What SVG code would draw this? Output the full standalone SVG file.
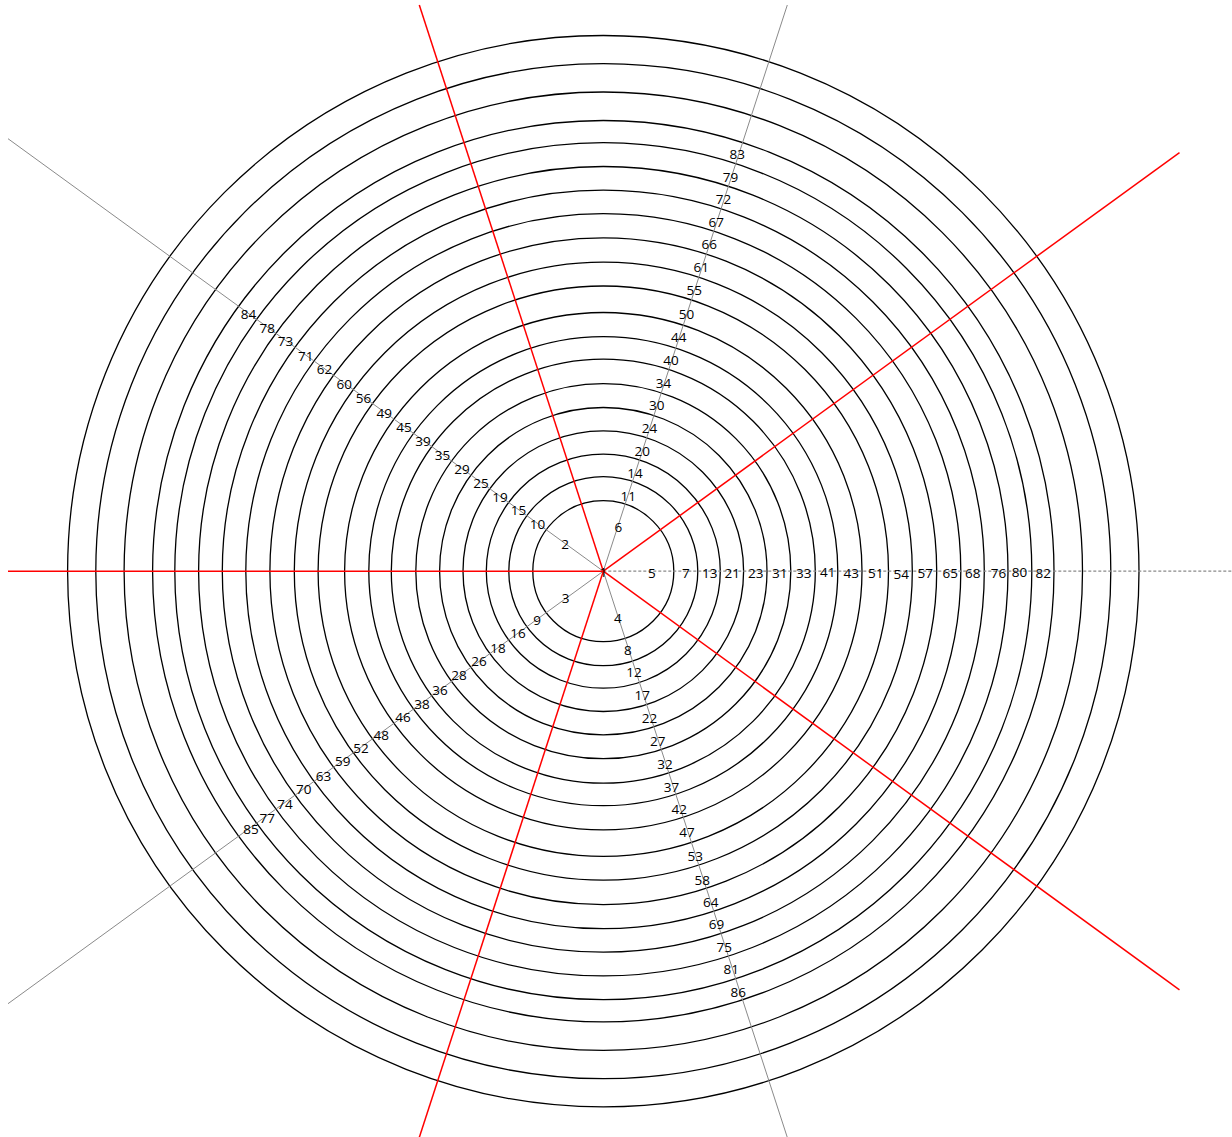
<svg xmlns="http://www.w3.org/2000/svg" width="1232" height="1137" viewBox="0 0 1232 1137">
<style>
.ring{fill:none;stroke:#000;stroke-width:1.3}
.red{stroke:#ff0000;stroke-width:1.5;fill:none}
.gray{stroke:#8a8a8a;stroke-width:1;fill:none}
.dash{stroke:#8a8a8a;stroke-width:1.2;stroke-dasharray:3 2;fill:none}
text{font-family:"Open Sans","Noto Sans","Liberation Sans",sans-serif;font-size:13.5px;fill:#000;text-anchor:middle;dominant-baseline:central}
</style>
<rect width="1232" height="1137" fill="#fff"/>
<g id="rings">
<circle class="ring" cx="603.3" cy="571.2" r="70.5"/>
<circle class="ring" cx="603.3" cy="571.2" r="94.5"/>
<circle class="ring" cx="603.3" cy="571.2" r="117"/>
<circle class="ring" cx="603.3" cy="571.2" r="140.3"/>
<circle class="ring" cx="603.3" cy="571.2" r="163.7"/>
<circle class="ring" cx="603.3" cy="571.2" r="187.5"/>
<circle class="ring" cx="603.3" cy="571.2" r="212"/>
<circle class="ring" cx="603.3" cy="571.2" r="234.5"/>
<circle class="ring" cx="603.3" cy="571.2" r="258.7"/>
<circle class="ring" cx="603.3" cy="571.2" r="285.2"/>
<circle class="ring" cx="603.3" cy="571.2" r="309"/>
<circle class="ring" cx="603.3" cy="571.2" r="333.4"/>
<circle class="ring" cx="603.3" cy="571.2" r="357.5"/>
<circle class="ring" cx="603.3" cy="571.2" r="381"/>
<circle class="ring" cx="603.3" cy="571.2" r="404.7"/>
<circle class="ring" cx="603.3" cy="571.2" r="428.5"/>
<circle class="ring" cx="603.3" cy="571.2" r="450.7"/>
<circle class="ring" cx="603.3" cy="571.2" r="479.2"/>
<circle class="ring" cx="603.3" cy="571.2" r="507.5"/>
<circle class="ring" cx="603.3" cy="571.2" r="535.7"/>
</g>
<g id="connectors">
<line class="dash" x1="603.3" y1="571.2" x2="1232" y2="571.2"/>
<line class="gray" x1="603.3" y1="571.2" x2="787.3" y2="5"/>
<line class="gray" x1="603.3" y1="571.2" x2="8" y2="138.7"/>
<line class="gray" x1="603.3" y1="571.2" x2="8" y2="1003.7"/>
<line class="gray" x1="603.3" y1="571.2" x2="787.3" y2="1137.4"/>
<line class="red" x1="603.3" y1="571.2" x2="8" y2="571.2"/>
<line class="red" x1="603.3" y1="571.2" x2="419.3" y2="5"/>
<line class="red" x1="603.3" y1="571.2" x2="1179.5" y2="152.6"/>
<line class="red" x1="603.3" y1="571.2" x2="1179.5" y2="989.8"/>
<line class="red" x1="603.3" y1="571.2" x2="419.3" y2="1137.4"/>
</g>
<g id="nodes">
<g id="n1"><text x="603.3" y="572.2">1</text></g>
<g id="n5"><text x="651.8" y="572.7">5</text></g>
<g id="n7"><text x="685.8" y="572.7">7</text></g>
<g id="n13"><text x="709.8" y="572.7">13</text></g>
<g id="n21"><text x="732.3" y="572.7">21</text></g>
<g id="n23"><text x="755.8" y="572.7">23</text></g>
<g id="n31"><text x="779.8" y="572.7">31</text></g>
<g id="n33"><text x="803.8" y="572.7">33</text></g>
<g id="n41"><text x="827.8" y="572.2">41</text></g>
<g id="n43"><text x="851.3" y="572.7">43</text></g>
<g id="n51"><text x="875.8" y="572.7">51</text></g>
<g id="n54"><text x="901.3" y="573.5">54</text></g>
<g id="n57"><text x="925.3" y="572.7">57</text></g>
<g id="n65"><text x="950.3" y="572.7">65</text></g>
<g id="n68"><text x="972.8" y="572.7">68</text></g>
<g id="n76"><text x="998.5" y="572.7">76</text></g>
<g id="n80"><text x="1019.5" y="572.2">80</text></g>
<g id="n82"><text x="1043.3" y="572.7">82</text></g>
<g id="n6"><text x="618.3" y="526.6">6</text></g>
<g id="n11"><text x="628.3" y="496">11</text></g>
<g id="n14"><text x="635.1" y="473.4">14</text></g>
<g id="n20"><text x="642.2" y="451">20</text></g>
<g id="n24"><text x="649.4" y="428.2">24</text></g>
<g id="n30"><text x="656.7" y="405.3">30</text></g>
<g id="n34"><text x="663.6" y="382.5">34</text></g>
<g id="n40"><text x="671" y="359.7">40</text></g>
<g id="n44"><text x="678.8" y="337.3">44</text></g>
<g id="n50"><text x="686.4" y="314">50</text></g>
<g id="n55"><text x="694.2" y="289.8">55</text></g>
<g id="n61"><text x="701.2" y="266.9">61</text></g>
<g id="n66"><text x="709.2" y="243.6">66</text></g>
<g id="n67"><text x="716.3" y="221.8">67</text></g>
<g id="n72"><text x="723.6" y="199">72</text></g>
<g id="n79"><text x="730.5" y="176.6">79</text></g>
<g id="n83"><text x="737.3" y="154.2">83</text></g>
<g id="n2"><text x="565.1" y="544.2">2</text></g>
<g id="n10"><text x="537.6" y="524.2">10</text></g>
<g id="n15"><text x="518.5" y="510.4">15</text></g>
<g id="n19"><text x="499.9" y="496.9">19</text></g>
<g id="n25"><text x="480.9" y="483.1">25</text></g>
<g id="n29"><text x="461.9" y="469.3">29</text></g>
<g id="n35"><text x="442.5" y="455.1">35</text></g>
<g id="n39"><text x="423.1" y="441">39</text></g>
<g id="n45"><text x="404.1" y="427.2">45</text></g>
<g id="n49"><text x="384.3" y="412.8">49</text></g>
<g id="n56"><text x="363.6" y="397.8">56</text></g>
<g id="n60"><text x="344.2" y="383.7">60</text></g>
<g id="n62"><text x="324.4" y="369.3">62</text></g>
<g id="n71"><text x="305.8" y="355.8">71</text></g>
<g id="n73"><text x="285.6" y="341.1">73</text></g>
<g id="n78"><text x="267.3" y="327.9">78</text></g>
<g id="n84"><text x="248.5" y="314.1">84</text></g>
<g id="n3"><text x="565.6" y="598.2">3</text></g>
<g id="n9"><text x="537.1" y="619.7">9</text></g>
<g id="n16"><text x="518" y="633">16</text></g>
<g id="n18"><text x="497.9" y="648">18</text></g>
<g id="n26"><text x="478.9" y="660.8">26</text></g>
<g id="n28"><text x="458.9" y="675.2">28</text></g>
<g id="n36"><text x="440" y="689.8">36</text></g>
<g id="n38"><text x="422.1" y="703.9">38</text></g>
<g id="n46"><text x="403.1" y="716.7">46</text></g>
<g id="n48"><text x="381.3" y="735">48</text></g>
<g id="n52"><text x="361.1" y="748">52</text></g>
<g id="n59"><text x="342.7" y="760.7">59</text></g>
<g id="n63"><text x="323.4" y="775.6">63</text></g>
<g id="n70"><text x="303.8" y="789.1">70</text></g>
<g id="n74"><text x="285.1" y="804">74</text></g>
<g id="n77"><text x="267.3" y="817.5">77</text></g>
<g id="n85"><text x="251" y="828.8">85</text></g>
<g id="n4"><text x="617.8" y="617.8">4</text></g>
<g id="n8"><text x="627.8" y="649.7">8</text></g>
<g id="n12"><text x="634.1" y="672">12</text></g>
<g id="n17"><text x="642.3" y="695">17</text></g>
<g id="n22"><text x="649.6" y="718.3">22</text></g>
<g id="n27"><text x="657.7" y="741">27</text></g>
<g id="n32"><text x="665" y="764">32</text></g>
<g id="n37"><text x="671.5" y="786.5">37</text></g>
<g id="n42"><text x="679.3" y="809.3">42</text></g>
<g id="n47"><text x="687" y="832">47</text></g>
<g id="n53"><text x="695.2" y="856">53</text></g>
<g id="n58"><text x="702.2" y="879.5">58</text></g>
<g id="n64"><text x="710.7" y="902">64</text></g>
<g id="n69"><text x="716.5" y="923.5">69</text></g>
<g id="n75"><text x="724.3" y="946.5">75</text></g>
<g id="n81"><text x="731.2" y="969">81</text></g>
<g id="n86"><text x="738.3" y="991.5">86</text></g>
</g>
</svg>
